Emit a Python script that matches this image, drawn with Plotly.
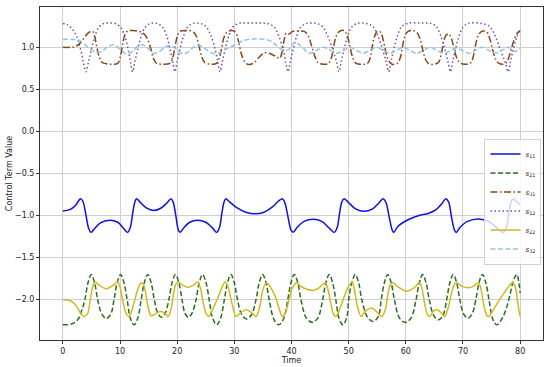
import plotly.graph_objects as go

# ---------------- data ----------------
s11_t = [0, 1.2, 2.2, 2.8, 3.1, 3.5, 4.0, 4.5, 4.9, 5.5, 6.5, 8.2, 9.6, 10.6, 11.3, 11.8, 12.2, 12.6, 12.9,
         13.5, 14.6, 15.9, 17.2, 18.2, 18.9, 19.3, 19.8, 20.2, 20.5, 21.1, 22.2, 23.6, 25.0, 26.2, 26.9, 27.4,
         27.8, 28.2, 28.5, 29.2, 30.5, 32.0, 33.6, 35.2, 36.6, 37.7, 38.4, 38.8, 39.4, 39.9, 40.3, 41.0, 42.2,
         43.8, 45.3, 46.6, 47.5, 48.0, 48.4, 48.8, 49.2, 49.9, 51.2, 52.7, 54.2, 55.3, 56.0, 56.5, 57.1, 57.6,
         57.9, 58.6, 60.4, 62.3, 63.9, 65.3, 66.4, 67.0, 67.5, 68.0, 68.5, 68.8, 69.5, 70.8, 72.7, 74.5, 76.0,
         77.1, 77.6, 78.0, 78.4, 78.8, 79.3, 80.0]
s11_v = [-0.945, -0.93, -0.88, -0.82, -0.80, -0.83, -0.98, -1.15, -1.20, -1.16, -1.09, -1.055, -1.08, -1.15,
         -1.20, -1.14, -0.98, -0.84, -0.80, -0.84, -0.91, -0.94, -0.91, -0.85, -0.80, -0.84, -1.02, -1.17,
         -1.20, -1.15, -1.08, -1.055, -1.08, -1.15, -1.20, -1.14, -0.98, -0.84, -0.80, -0.84, -0.91, -0.96,
         -0.98, -0.96, -0.90, -0.83, -0.80, -0.84, -1.02, -1.17, -1.20, -1.14, -1.07, -1.045, -1.07, -1.15,
         -1.20, -1.14, -0.98, -0.84, -0.80, -0.84, -0.92, -0.95, -0.92, -0.85, -0.80, -0.84, -1.02, -1.17,
         -1.20, -1.13, -1.05, -1.00, -0.975, -0.93, -0.85, -0.80, -0.84, -1.02, -1.17, -1.20, -1.14, -1.07,
         -1.04, -1.07, -1.15, -1.20, -1.14, -0.98, -0.84, -0.80, -0.83, -0.87]

s21_t = [0, 1.5, 2.6, 3.3, 3.85, 4.4, 4.97, 5.55, 6.1, 6.8, 7.6, 8.4, 8.95, 9.5, 10.1, 10.7, 11.25, 11.8,
         12.45, 13.1, 13.7, 14.25, 14.85, 15.45, 16.0, 16.6, 17.25, 17.9, 18.55, 19.1, 19.7, 20.3, 20.85,
         21.35, 21.95, 22.6, 23.3, 23.85, 24.45, 25.05, 25.6, 26.2, 26.9, 27.6, 28.25, 28.8, 29.4, 30.0,
         30.55, 31.3, 32.15, 33.0, 33.8, 34.35, 34.95, 35.55, 36.1, 36.9, 37.75, 38.6, 39.35, 39.9, 40.5,
         41.1, 41.65, 42.6, 43.6, 44.6, 45.45, 46.0, 46.6, 47.2, 47.75, 48.35, 49.0, 49.7, 50.0, 50.55,
         51.15, 51.75, 52.3, 53.3, 54.3, 55.2, 55.7, 56.25, 56.85, 57.45, 58.0, 58.9, 59.9, 60.9, 61.8,
         62.35, 62.95, 63.55, 64.1, 64.9, 65.7, 66.5, 67.15, 67.7, 68.3, 68.9, 69.45, 70.1, 70.85, 71.6,
         72.25, 72.8, 73.4, 74.0, 74.55, 75.2, 75.9, 76.8, 77.6, 78.2, 78.8, 79.4, 80.0]
s21_v = [-2.30, -2.29, -2.24, -2.13, -2.0, -1.8, -1.70, -1.8, -2.0, -2.17, -2.225, -2.17, -2.0, -1.8, -1.70,
         -1.8, -2.0, -2.22, -2.30, -2.22, -2.0, -1.8, -1.70, -1.8, -2.0, -2.16, -2.21, -2.16, -2.0, -1.8,
         -1.70, -1.8, -2.0, -2.16, -2.21, -2.16, -2.0, -1.8, -1.70, -1.8, -2.0, -2.22, -2.30, -2.22, -2.0,
         -1.8, -1.70, -1.8, -2.0, -2.18, -2.23, -2.18, -2.0, -1.8, -1.70, -1.8, -2.0, -2.23, -2.30, -2.23,
         -2.0, -1.8, -1.70, -1.8, -2.0, -2.22, -2.27, -2.22, -2.0, -1.8, -1.70, -1.8, -2.0, -2.23, -2.30,
         -2.2, -2.0, -1.8, -1.70, -1.8, -2.0, -2.21, -2.26, -2.2, -2.0, -1.8, -1.70, -1.8, -2.0, -2.22,
         -2.27, -2.22, -2.0, -1.8, -1.70, -1.8, -2.0, -2.19, -2.24, -2.19, -2.0, -1.8, -1.70, -1.8, -2.0,
         -2.17, -2.22, -2.17, -2.0, -1.8, -1.70, -1.8, -2.0, -2.23, -2.30, -2.23, -2.1, -1.95, -1.78, -1.70,
         -1.92]

s31_t = [0, 1.2, 2.2, 3.0, 3.8, 4.6, 5.2, 5.6, 6.0, 6.4, 6.9, 7.6, 8.6, 9.6, 10.1, 10.5, 10.9, 11.4, 12.3,
         13.3, 14.2, 14.8, 15.4, 15.9, 16.4, 17.5, 18.7, 19.2, 19.6, 20.0, 20.5, 21.5, 22.7, 23.3, 23.8, 24.3,
         24.8, 25.8, 26.9, 27.4, 27.8, 28.2, 28.7, 29.5, 30.2, 30.7, 31.2, 31.7, 32.3, 33.3, 34.3, 35.3, 36.3,
         37.3, 37.9, 38.3, 38.7, 39.1, 39.6, 40.2, 41.2, 42.2, 42.9, 43.5, 44.1, 44.6, 45.6, 46.5, 47.0, 47.4,
         47.8, 48.4, 49.2, 49.7, 50.2, 50.7, 51.3, 52.3, 53.3, 53.8, 54.1, 54.5, 55.0, 55.6, 56.0, 56.5, 57.0,
         57.6, 58.5, 59.0, 59.4, 59.8, 60.4, 61.2, 61.9, 62.5, 63.0, 63.5, 64.1, 65.0, 65.7, 66.2, 66.6, 67.0,
         67.5, 68.0, 68.5, 69.0, 69.6, 70.6, 71.4, 71.9, 72.3, 72.8, 73.5, 74.2, 74.7, 75.2, 75.7, 76.3, 77.0,
         77.6, 78.2, 78.8, 79.4, 80.0]
s31_v = [1.0, 1.0, 1.01, 1.05, 1.12, 1.18, 1.19, 1.12, 0.98, 0.88, 0.82, 0.805, 0.80, 0.81, 0.9, 1.05, 1.16,
         1.195, 1.20, 1.19, 1.16, 1.10, 0.98, 0.86, 0.81, 0.80, 0.81, 0.87, 1.0, 1.13, 1.19, 1.20, 1.19, 1.14,
         1.02, 0.89, 0.82, 0.80, 0.81, 0.88, 1.0, 1.12, 1.18, 1.20, 1.18, 1.08, 0.93, 0.84, 0.80, 0.81, 0.88,
         0.935, 0.925, 0.89, 0.87, 0.93, 1.08, 1.17, 1.16, 1.19, 1.195, 1.19, 1.14, 1.02, 0.89, 0.82, 0.80,
         0.81, 0.88, 1.02, 1.13, 1.19, 1.20, 1.15, 1.02, 0.88, 0.81, 0.80, 0.81, 0.88, 1.0, 1.12, 1.19, 1.18,
         1.10, 0.95, 0.84, 0.80, 0.81, 0.87, 1.0, 1.13, 1.19, 1.20, 1.18, 1.10, 0.96, 0.85, 0.80, 0.80, 0.82,
         0.92, 1.06, 1.14, 1.16, 1.10, 0.97, 0.86, 0.81, 0.80, 0.82, 0.92, 1.06, 1.16, 1.195, 1.18, 1.10,
         0.97, 0.86, 0.81, 0.80, 0.82, 0.92, 1.06, 1.16, 1.20]

s12_t = [0, 0.8, 1.6, 2.4, 3.2, 3.6, 4.0, 4.5, 5.0, 5.6, 6.3, 7.2, 8.3, 9.3, 10.2, 10.9, 11.5, 11.85, 12.2,
         12.6, 13.1, 13.7, 14.4, 15.3, 16.4, 17.3, 18.1, 18.8, 19.25, 19.6, 20.0, 20.5, 21.1, 21.8, 22.8, 24.0,
         25.0, 25.9, 26.7, 27.1, 27.5, 27.9, 28.4, 29.0, 29.7, 30.8, 32.5, 34.5, 36.0, 37.0, 37.8, 38.6, 39.0,
         39.4, 39.8, 40.3, 40.9, 41.6, 42.7, 44.3, 45.4, 46.3, 47.2, 47.9, 48.3, 48.7, 49.2, 49.8, 50.5, 51.5,
         53.0, 54.2, 55.1, 56.0, 56.6, 57.0, 57.4, 57.9, 58.5, 59.2, 60.3, 62.5, 64.3, 65.3, 66.1, 66.9, 67.4,
         67.8, 68.2, 68.7, 69.3, 70.0, 71.0, 73.2, 74.6, 75.6, 76.6, 77.4, 77.9, 78.3, 78.8, 79.4, 80.0]
s12_v = [1.285, 1.27, 1.22, 1.13, 0.95, 0.82, 0.71, 0.83, 0.98, 1.13, 1.24, 1.285, 1.29, 1.28, 1.23, 1.12,
         0.95, 0.82, 0.71, 0.83, 0.98, 1.13, 1.24, 1.285, 1.285, 1.25, 1.15, 0.96, 0.82, 0.71, 0.83, 0.98,
         1.13, 1.24, 1.285, 1.285, 1.25, 1.14, 0.96, 0.82, 0.71, 0.83, 0.98, 1.13, 1.24, 1.285, 1.29, 1.29,
         1.28, 1.24, 1.13, 0.96, 0.82, 0.71, 0.83, 0.98, 1.13, 1.24, 1.285, 1.285, 1.25, 1.14, 0.98, 0.82,
         0.71, 0.83, 0.98, 1.13, 1.24, 1.285, 1.285, 1.25, 1.14, 0.96, 0.82, 0.71, 0.83, 0.98, 1.13, 1.24,
         1.285, 1.29, 1.285, 1.25, 1.14, 0.96, 0.82, 0.71, 0.83, 0.98, 1.13, 1.24, 1.285, 1.285, 1.25, 1.14,
         0.96, 0.82, 0.71, 0.83, 0.98, 1.12, 1.22]

s22_t = [0, 1.2, 2.2, 3.0, 3.7, 4.3, 4.8, 5.2, 5.6, 6.4, 7.6, 8.8, 9.6, 10.0, 10.6, 11.1, 11.6, 12.4, 13.1,
         13.7, 14.2, 14.8, 15.4, 16.0, 16.6, 17.2, 17.8, 18.4, 18.9, 19.4, 19.8, 20.2, 21.0, 21.9, 22.8, 23.6,
         24.0, 24.6, 25.1, 25.5, 26.3, 27.3, 28.0, 28.4, 28.9, 29.6, 30.3, 31.0, 32.1, 33.1, 33.8, 34.4, 35.0,
         35.6, 36.4, 37.2, 37.9, 38.4, 38.9, 39.5, 40.1, 40.9, 41.8, 43.8, 44.8, 45.9, 46.3, 46.9, 47.4, 47.8,
         48.5, 49.3, 50.0, 50.6, 51.0, 51.6, 52.2, 52.9, 54.0, 55.0, 55.8, 56.4, 56.9, 57.3, 57.7, 58.7, 60.1,
         61.4, 62.4, 62.8, 63.3, 63.8, 64.2, 64.8, 65.4, 66.1, 66.8, 67.4, 68.0, 68.5, 68.9, 69.8, 70.9, 71.9,
         72.7, 73.1, 73.6, 74.1, 74.5, 75.3, 76.4, 77.5, 78.4, 78.8, 79.2, 79.6, 80.0]
s22_v = [-2.0, -2.01, -2.06, -2.15, -2.2, -2.17, -2.0, -1.85, -1.79, -1.83, -1.87, -1.83, -1.79, -1.85, -2.05,
         -2.17, -2.2, -2.05, -1.88, -1.80, -1.84, -2.05, -2.19, -2.18, -2.15, -2.14, -2.16, -2.2, -2.12, -1.92,
         -1.81, -1.79, -1.83, -1.855, -1.83, -1.79, -1.85, -2.05, -2.17, -2.2, -2.1, -1.95, -1.83, -1.79,
         -1.85, -2.05, -2.2, -2.16, -2.12, -2.16, -2.2, -2.1, -1.88, -1.80, -1.86, -1.97, -2.12, -2.2, -2.16,
         -2.02, -1.87, -1.80, -1.85, -1.89, -1.86, -1.80, -1.86, -2.05, -2.18, -2.2, -2.1, -1.95, -1.84,
         -1.79, -1.88, -2.1, -2.2, -2.14, -2.10, -2.15, -2.2, -2.12, -1.92, -1.82, -1.80, -1.85, -1.90, -1.86,
         -1.80, -1.86, -2.05, -2.18, -2.2, -2.14, -2.12, -2.15, -2.2, -2.1, -1.92, -1.82, -1.80, -1.84, -1.86,
         -1.84, -1.80, -1.86, -2.05, -2.18, -2.2, -2.12, -2.0, -1.89, -1.81, -1.80, -1.86, -2.05, -2.2]

s32_t = [0, 1.5, 2.6, 3.6, 4.8, 5.9, 6.8, 7.9, 9.0, 10.1, 11.2, 12.3, 13.2, 14.0, 15.0, 15.9, 16.9, 18.0,
         19.0, 20.0, 21.0, 22.0, 23.0, 24.0, 25.0, 26.2, 27.3, 28.3, 29.5, 30.5, 31.5, 32.5, 34.0, 35.5,
         36.5, 37.6, 38.5, 39.4, 40.6, 41.9, 43.1, 44.4, 45.6, 46.8, 47.9, 49.1, 50.2, 51.4, 52.5, 53.7, 54.9,
         56.0, 57.2, 58.4, 59.5, 60.7, 61.9, 63.1, 64.3, 65.4, 66.6, 67.8, 68.9, 70.0, 71.1, 72.2, 73.3,
         74.5, 75.6, 76.8, 78.0, 79.0, 80.0]
s32_v = [1.095, 1.095, 1.09, 1.05, 0.98, 0.94, 0.95, 1.01, 1.03, 0.97, 0.92, 0.96, 1.02, 1.03, 0.98, 0.93,
         0.95, 1.01, 1.02, 0.97, 0.92, 0.95, 1.01, 1.02, 0.98, 0.93, 0.93, 0.97, 1.01, 1.04, 1.08, 1.095,
         1.10, 1.095, 1.07, 1.01, 0.97, 0.97, 1.06, 1.0, 0.93, 0.965, 1.0, 0.965, 0.93, 0.965, 1.0, 0.965,
         0.93, 0.965, 1.0, 0.965, 0.93, 0.965, 1.0, 0.965, 0.925, 0.965, 1.0, 0.965, 0.93, 0.96, 0.99, 0.96,
         0.93, 0.965, 1.0, 0.965, 0.93, 0.965, 1.0, 0.95, 0.99]

series = [
    ("<i>s</i><sub>11</sub>", s11_t, s11_v, "#1010e0", "solid"),
    ("<i>s</i><sub>21</sub>", s21_t, s21_v, "#2a6e1e", "5px,2.5px"),
    ("<i>s</i><sub>31</sub>", s31_t, s31_v, "#8b4513", "7px,2.5px,1.5px,2.5px"),
    ("<i>s</i><sub>12</sub>", s12_t, s12_v, "#7b4a9e", "1.5px,2.5px"),
    ("<i>s</i><sub>22</sub>", s22_t, s22_v, "#d2b81e", "solid"),
    ("<i>s</i><sub>32</sub>", s32_t, s32_v, "#8ec5e6", "5px,2.5px"),
]

x_ticks = [0, 10, 20, 30, 40, 50, 60, 70, 80]
y_ticks = [-2.0, -1.5, -1.0, -0.5, 0.0, 0.5, 1.0]

fig = go.Figure()
for name, t, v, color, dash in series:
    fig.add_trace(go.Scatter(x=t, y=v, mode="lines", name=name,
                             line=dict(color=color, width=1.5, dash=dash, shape="spline", smoothing=1.0)))

axis_common = dict(showline=True, mirror=True, linecolor="#333333", linewidth=1,
                   showgrid=True, gridcolor="#cfcfcf", gridwidth=1, zeroline=False,
                   ticks="outside", ticklen=3, tickcolor="#333333", automargin=False,
                   tickfont=dict(family="DejaVu Sans", size=8, color="#222222"))

fig.update_layout(
    width=550, height=367,
    margin=dict(l=40, r=7, t=7, b=27),
    paper_bgcolor="white", plot_bgcolor="white",
    font=dict(family="DejaVu Sans", size=8, color="#222222"),
    xaxis=dict(range=[-4, 84], tickvals=x_ticks,
               title=dict(text="Time", font=dict(size=8), standoff=2), **axis_common),
    yaxis=dict(range=[-2.48, 1.48], tickvals=y_ticks, tickformat=".1f",
               title=dict(text="Control Term Value", font=dict(size=8), standoff=1), **axis_common),
    legend=dict(x=0.997, y=0.605, xanchor="right", yanchor="top",
                bgcolor="rgba(255,255,255,0.8)", bordercolor="#d0d0d0", borderwidth=1,
                font=dict(family="DejaVu Sans", size=7, color="#222222"),
                itemwidth=30, tracegroupgap=0),
    showlegend=True,
)

fig.write_html("out.html", config={"displayModeBar": False},
               post_script="document.body.style.margin='0px';")
